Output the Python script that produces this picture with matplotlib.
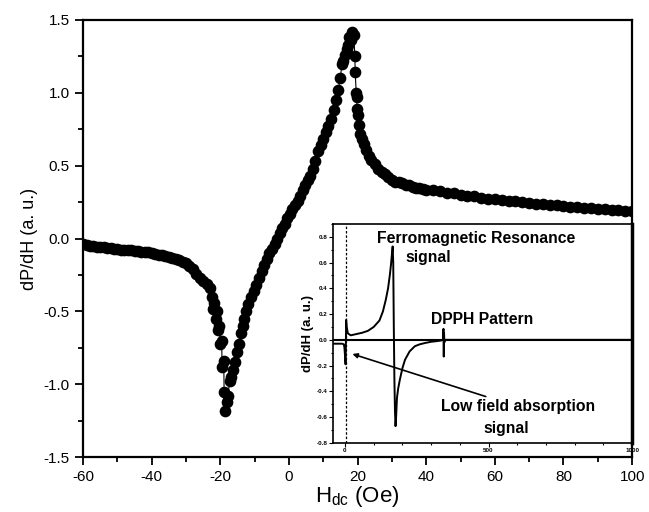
import matplotlib
matplotlib.use("Agg")
import matplotlib.pyplot as plt
from matplotlib.ticker import MultipleLocator

plt.rcParams['font.family'] = ['Liberation Sans', 'DejaVu Sans']
plt.rcParams['mathtext.fontset'] = 'custom'
plt.rcParams['mathtext.rm'] = 'Liberation Sans'
plt.rcParams['mathtext.it'] = 'Liberation Sans'

# ---- main data, in segments ----
field_low = [-60, -59, -58, -57, -56, -55, -54, -53, -52, -51, -50, -49, -48, -47, -46,
             -45, -44, -43, -42, -41, -40, -39, -38, -37, -36, -35, -34, -33, -32, -31,
             -30, -29, -28, -27, -26, -25, -24, -23]
signal_low = [-0.04, -0.045, -0.05, -0.05, -0.055, -0.06, -0.06, -0.065, -0.065, -0.07,
              -0.07, -0.075, -0.075, -0.08, -0.08, -0.085, -0.085, -0.09, -0.09, -0.095,
              -0.10, -0.105, -0.11, -0.115, -0.12, -0.125, -0.13, -0.14, -0.15, -0.16,
              -0.17, -0.19, -0.21, -0.24, -0.27, -0.29, -0.31, -0.34]

field_dip = [-22.5, -22.2, -21.8, -21.3, -21.0, -20.6, -20.3, -20.0, -19.6, -19.5,
             -19.0, -18.9, -18.6, -18.2, -17.8, -17.3, -16.8, -16.3, -15.8, -15.2,
             -14.7, -14.0, -13.5, -13.0, -12.5, -11.8, -11.0, -10.3, -9.5, -8.7,
             -8.0, -7.3, -6.5, -5.7, -5.0, -4.2, -3.5, -2.7, -2.0, -1.3, -0.6]
signal_dip = [-0.40, -0.48, -0.44, -0.55, -0.50, -0.63, -0.60, -0.72, -0.70, -0.88,
              -0.84, -1.05, -1.18, -1.12, -1.08, -0.98, -0.95, -0.90, -0.85, -0.78,
              -0.72, -0.65, -0.60, -0.55, -0.50, -0.45, -0.40, -0.36, -0.32, -0.27,
              -0.22, -0.18, -0.14, -0.10, -0.07, -0.04, 0.00, 0.04, 0.07, 0.10, 0.14]

field_peak = [0.2, 1.0, 1.7, 2.5, 3.3, 4.0, 4.8, 5.5, 6.2, 7.0,
              7.7, 8.5, 9.2, 10.0, 10.8, 11.5, 12.2, 13.0, 13.7, 14.3,
              15.0, 15.4, 15.8, 16.3, 16.8, 17.2, 17.6, 18.0, 18.5, 18.9,
              19.2, 19.3, 19.6, 19.9, 19.7, 20.2, 20.5, 20.8, 21.3, 21.8,
              22.5, 23.3, 24.0, 25.0, 26.0, 27.0, 28.0, 29.0, 30.0]
signal_peak = [0.17, 0.20, 0.23, 0.26, 0.29, 0.33, 0.37, 0.40, 0.43, 0.48,
               0.53, 0.60, 0.64, 0.68, 0.73, 0.77, 0.82, 0.88, 0.95, 1.02,
               1.10, 1.20, 1.22, 1.26, 1.30, 1.33, 1.38, 1.36, 1.42, 1.40,
               1.25, 1.14, 1.00, 0.97, 0.89, 0.85, 0.78, 0.72, 0.68, 0.65,
               0.61, 0.57, 0.54, 0.51, 0.48, 0.46, 0.44, 0.42, 0.40]

field_tail = [31, 32, 33, 34, 35, 36, 37, 38, 39, 40,
              42, 44, 46, 48, 50, 52, 54, 56, 58, 60,
              62, 64, 66, 68, 70, 72, 74, 76, 78, 80,
              82, 84, 86, 88, 90, 92, 94, 96, 98, 100]
signal_tail = [0.39, 0.385, 0.38, 0.37, 0.365, 0.355, 0.35, 0.345, 0.34, 0.335,
               0.33, 0.325, 0.315, 0.31, 0.30, 0.295, 0.29, 0.28, 0.275, 0.27,
               0.265, 0.26, 0.255, 0.25, 0.245, 0.24, 0.235, 0.23, 0.228, 0.225,
               0.22, 0.215, 0.21, 0.208, 0.205, 0.20, 0.198, 0.195, 0.192, 0.19]

field = field_low + field_dip + field_peak + field_tail
signal = signal_low + signal_dip + signal_peak + signal_tail

# ---- inset data: wide field sweep ----
inset_field = [-42, -30, -20, -10, -4, -2, 0, 2, 3, 4,
               6, 10, 20, 40, 60, 80, 100, 120, 132, 142,
               150, 156, 160, 164, 166, 168, 170, 172, 174, 176,
               178, 181, 185, 191, 200, 209, 225, 243, 260, 278,
               300, 320, 335, 341, 343, 344, 345, 346, 348, 355,
               400, 500, 600, 700, 800, 900, 1000]
inset_signal = [-0.03, -0.03, -0.03, -0.03, -0.035, -0.06, -0.12, -0.19, -0.05, 0.155,
                0.10, 0.05, 0.035, 0.045, 0.055, 0.07, 0.10, 0.15, 0.22, 0.31,
                0.40, 0.50, 0.58, 0.68, 0.725, 0.60, 0.10, -0.30, -0.55, -0.67,
                -0.60, -0.45, -0.38, -0.31, -0.22, -0.155, -0.09, -0.05, -0.035, -0.025,
                -0.015, -0.01, -0.005, 0.0, 0.085, -0.13, 0.05, -0.02, 0.0, 0.0,
                0.0, 0.0, 0.0, 0.0, 0.0, 0.0, 0.0]

main_xticks = [-60, -40, -20, 0, 20, 40, 60, 80, 100]
main_yticks = [-1.5, -1.0, -0.5, 0.0, 0.5, 1.0, 1.5]
inset_xticks = [0, 500, 1000]
inset_yticks = [-0.8, -0.6, -0.4, -0.2, 0.0, 0.2, 0.4, 0.6, 0.8]

fig = plt.figure(figsize=(6.49, 5.12), dpi=100)
ax = fig.add_axes([0.128, 0.107, 0.846, 0.854])
ax.plot(field, signal, color='black', lw=0.8, marker='o', ms=7.4,
        mfc='black', mec='black')
ax.set_xlim(-60, 100)
ax.set_ylim(-1.5, 1.5)
ax.set_xticks(main_xticks)
ax.set_yticks(main_yticks)
ax.set_xticklabels([f"{t:d}" for t in main_xticks], fontsize=11)
ax.set_yticklabels([f"{t:.1f}" for t in main_yticks], fontsize=11)
ax.xaxis.set_minor_locator(MultipleLocator(10))
ax.yaxis.set_minor_locator(MultipleLocator(0.25))
ax.tick_params(which='both', direction='out', top=False, right=False, width=1.3)
ax.tick_params(which='major', length=6)
ax.tick_params(which='minor', length=3.5)
for s in ax.spines.values():
    s.set_linewidth(1.6)
ax.set_xlabel(r'H$_{\mathrm{dc}}$ (Oe)', fontsize=16, labelpad=0)
ax.set_ylabel('dP/dH (a. u.)', fontsize=13, labelpad=4)

# ---- inset ----
ins = fig.add_axes([0.513, 0.135, 0.461, 0.4277])
ins.plot(inset_field, inset_signal, color='black', lw=1.4)
ins.axhline(0, color='black', lw=1.5)
ins.axvline(2, color='black', lw=0.9, ls=(0, (2, 1.5)))
ins.set_xlim(-42, 1000)
ins.set_ylim(-0.8, 0.9)
ins.set_xticks(inset_xticks)
ins.set_yticks(inset_yticks)
ins.set_xticklabels([str(t) for t in inset_xticks], fontsize=4.5, fontweight='bold')
ins.set_yticklabels([f"{t:.1f}" for t in inset_yticks], fontsize=4.5, fontweight='bold')
ins.xaxis.set_minor_locator(MultipleLocator(100))
ins.yaxis.set_minor_locator(MultipleLocator(0.1))
ins.tick_params(which='both', direction='out', top=False, right=False, width=0.8, pad=1)
ins.tick_params(which='major', length=3)
ins.tick_params(which='minor', length=1.5)
for s in ins.spines.values():
    s.set_linewidth(1.2)
ins.spines['right'].set_linewidth(2.5)
ins.set_ylabel('dP/dH (a. u.)', fontsize=9.5, fontweight='bold', labelpad=2)

fs = 11.3
ins.text(111, 0.79, 'Ferromagnetic Resonance', fontsize=fs, fontweight='bold',
         ha='left', va='center')
ins.text(209, 0.637, 'signal', fontsize=fs, fontweight='bold', ha='left', va='center')
ins.text(299, 0.155, 'DPPH Pattern', fontsize=fs, fontweight='bold', ha='left', va='center')
ins.annotate('Low field absorption', xy=(26, -0.11), xytext=(334, -0.52),
             fontsize=fs, fontweight='bold', ha='left', va='center',
             arrowprops=dict(arrowstyle='-|>', color='black', lw=1.2,
                             mutation_scale=7, shrinkA=0, shrinkB=0))
ins.text(563, -0.69, 'signal', fontsize=fs, fontweight='bold', ha='center', va='center')

fig.savefig('out.png', dpi=100)
